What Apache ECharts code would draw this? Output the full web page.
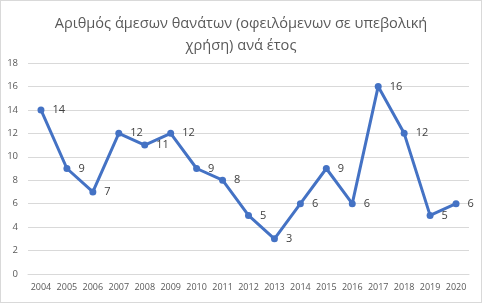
<!DOCTYPE html>
<html><head><meta charset="utf-8">
<script src="https://cdn.jsdelivr.net/npm/echarts@6/dist/echarts.min.js"></script>
<style>html,body{margin:0;padding:0;background:#fff}#c{width:480px;height:301px;border:1px solid #d9d9d9}</style>
</head><body><div id="c"></div>
<script>
const years = ['2004','2005','2006','2007','2008','2009','2010','2011','2012','2013','2014','2015','2016','2017','2018','2019','2020'];
const deaths = [14,9,7,12,11,12,9,8,5,3,6,9,6,16,12,5,6];
const yTicks = {min:0, max:18, interval:2};
const titleText = 'Αριθμός άμεσων θανάτων (οφειλόμενων σε υπεβολική\nχρήση) ανά έτος';
const chart = echarts.init(document.getElementById('c'));
chart.setOption({
  animation:false,
  title:{text:titleText,left:'center',top:7,textStyle:{fontFamily:'Open Sans',fontSize:14.6,fontWeight:'normal',color:'#595959',lineHeight:22}},
  grid:{left:27,right:12,top:62,bottom:28},
  xAxis:{type:'category',data:years,boundaryGap:true,
    axisLine:{lineStyle:{color:'#d9d9d9'}},axisTick:{show:false},
    axisLabel:{interval:0,color:'#595959',fontSize:9,fontFamily:'Open Sans',margin:9}},
  yAxis:{type:'value',min:yTicks.min,max:yTicks.max,interval:yTicks.interval,
    axisLine:{show:false},axisTick:{show:false},
    splitLine:{lineStyle:{color:'#d9d9d9'}},
    axisLabel:{color:'#595959',fontSize:9.5,fontFamily:'Open Sans',margin:10}},
  series:[{type:'line',data:deaths,symbol:'circle',symbolSize:7,
    lineStyle:{color:'#4472C4',width:3},itemStyle:{color:'#4472C4'},
    label:{show:true,position:'right',distance:8,color:'#404040',fontSize:11,fontFamily:'Open Sans'}}]
});
</script></body></html>
